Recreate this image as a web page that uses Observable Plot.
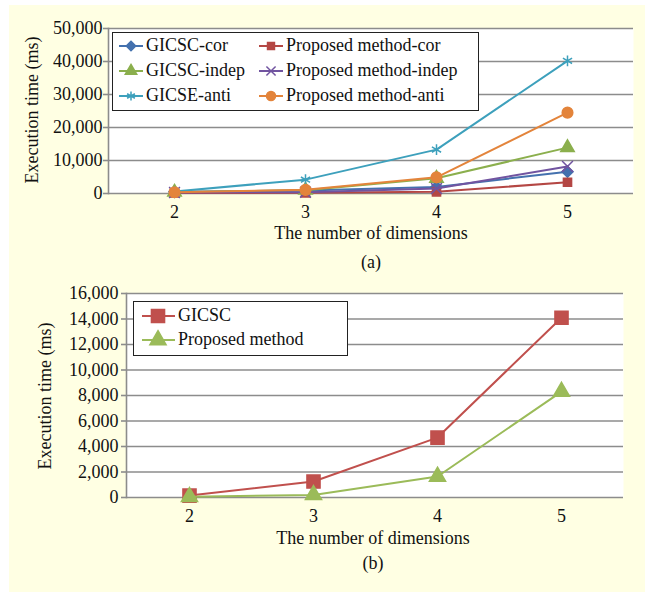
<!DOCTYPE html>
<html><head><meta charset="utf-8">
<script src="https://cdn.jsdelivr.net/npm/d3@7"></script>
<script src="https://cdn.jsdelivr.net/npm/@observablehq/plot@0.6"></script>
<style>
body{margin:0;background:#fff;font-family:"Liberation Serif","Times New Roman",serif;color:#111;}
#page{position:relative;width:645px;height:592px;overflow:hidden;}
#bg{position:absolute;left:9px;top:5px;width:636px;height:587px;background:#FFFFE3;}
.lbl{position:absolute;font-size:18px;line-height:18px;white-space:nowrap;transform:translateX(-50%);}
.ytitle{position:absolute;font-size:18px;line-height:18px;white-space:nowrap;transform:translate(-50%,-50%) rotate(-90deg);}
.legend{position:absolute;background:#fff;border:1.5px solid #222;box-sizing:border-box;}
.item{position:absolute;font-size:18px;line-height:18px;white-space:nowrap;}
.plot{position:absolute;left:0;}
</style>
</head><body>
<div id="page"><div id="bg"></div></div>
<script>
// ---- data ----
const dimensions = [2, 3, 4, 5];

const seriesA = ["GICSC-cor", "Proposed method-cor", "GICSC-indep", "Proposed method-indep", "GICSE-anti", "Proposed method-anti"];
const gicscCor      = [500, 900, 2000, 6600];
const proposedCor   = [150, 200, 500, 3400];
const gicscIndep    = [400, 1000, 4600, 13900];
const proposedIndep = [300, 400, 1500, 8200];
const gicseAnti     = [600, 4200, 13300, 40200];
const proposedAnti  = [400, 1100, 4900, 24500];
const valuesA = [gicscCor, proposedCor, gicscIndep, proposedIndep, gicseAnti, proposedAnti];
const colorsA = ["#4471AE", "#B44744", "#8BAF4D", "#7154A0", "#3DA0BC", "#E3843B"];
const symbolsA = ["diamond2", "square", "triangle", "times", "asterisk", "circle"];
const sizesA = [5, 4.6, 5, 5, 5, 5.3];
const yTicksA = [0, 10000, 20000, 30000, 40000, 50000];

const seriesB = ["GICSC", "Proposed method"];
const gicscB    = [150, 1250, 4700, 14100];
const proposedB = [50, 200, 1650, 8300];
const valuesB = [gicscB, proposedB];
const colorsB = ["#C0504D", "#9BBB59"];
const symbolsB = ["square", "triangle"];
const sizesB = [7.4, 6];
const yTicksB = [0, 2000, 4000, 6000, 8000, 10000, 12000, 14000, 16000];

const xTitle = "The number of dimensions";
const yTitle = "Execution time (ms)";

// ---- helpers ----
const page = document.getElementById("page");
const fmt = d3.format(",");
const grid = "#8C8C8C";

function panel(names, values, colors, symbols, sizes, yTicks, opts) {
  const marks = [
    Plot.frame({fill: "white", stroke: "none"}),
    Plot.gridY(yTicks, {stroke: grid, strokeOpacity: 1, strokeWidth: 1.6}),
    Plot.frame({anchor: "left", stroke: grid, strokeWidth: 1.6}),
    Plot.axisY(yTicks, {tickFormat: fmt, tickSize: opts.tickSize, tickPadding: opts.tickPadding, stroke: grid, strokeWidth: 1.6, fill: "#111", fontSize: 18, label: null}),
    Plot.axisX(dimensions, {tickSize: 0, tickPadding: 12, fill: "#111", fontSize: 18, label: null})
  ];
  names.forEach((name, i) => {
    const rows = dimensions.map((d, j) => ({dim: d, value: values[i][j], series: name}));
    marks.push(Plot.line(rows, {x: "dim", y: "value", stroke: colors[i], strokeWidth: 2}));
    marks.push(Plot.dot(rows, {x: "dim", y: "value", symbol: () => symbols[i], r: sizes[i], fill: colors[i], stroke: colors[i], strokeWidth: 1.5}));
  });
  const svg = Plot.plot({
    width: 645, height: opts.height,
    marginLeft: opts.ml, marginRight: opts.mr, marginTop: opts.mt, marginBottom: opts.mb,
    style: {background: "transparent", fontFamily: '"Liberation Serif","Times New Roman",serif', fontSize: "18px", color: "#111", overflow: "visible"},
    x: {type: "point", domain: dimensions, padding: 0.5, label: null},
    y: {domain: [0, yTicks[yTicks.length - 1]], label: null},
    symbol: {type: "identity"},
    marks
  });
  svg.classList.add("plot");
  svg.style.top = opts.top + "px";
  page.appendChild(svg);
}

function label(text, cls, x, y) {
  const d = document.createElement("div");
  d.className = cls; d.textContent = text;
  d.style.left = x + "px"; d.style.top = y + "px";
  page.appendChild(d);
}

function legend(names, colors, symbols, sizes, box, layout) {
  const lg = document.createElement("div");
  lg.className = "legend";
  Object.assign(lg.style, {left: box.x + "px", top: box.y + "px", width: box.w + "px", height: box.h + "px"});
  const nCols = layout.cols.length;
  names.forEach((name, i) => {
    const col = layout.cols[i % nCols];
    const row = layout.rows[Math.floor(i / nCols)];
    const w = col.lineEnd - col.lineStart;
    const sv = d3.create("svg").attr("width", w + 16).attr("height", 20)
      .style("position", "absolute").style("overflow", "visible")
      .style("left", (col.lineStart - 8) + "px").style("top", (row - 10) + "px");
    sv.append("line").attr("x1", 8).attr("x2", 8 + w).attr("y1", 10).attr("y2", 10)
      .attr("stroke", colors[i]).attr("stroke-width", 2);
    const symMap = {diamond2: d3.symbolDiamond2, square: d3.symbolSquare, triangle: d3.symbolTriangle, times: d3.symbolTimes, asterisk: d3.symbolAsterisk, circle: d3.symbolCircle};
    const s = sizes[i] * layout.scale;
    sv.append("path").attr("d", d3.symbol(symMap[symbols[i]], s * s * Math.PI)())
      .attr("transform", `translate(${8 + col.marker - col.lineStart},10)`)
      .attr("fill", colors[i]).attr("stroke", colors[i]).attr("stroke-width", 1.5);
    lg.appendChild(sv.node());
    const t = document.createElement("div");
    t.className = "item"; t.textContent = name;
    t.style.left = col.text + "px"; t.style.top = (row - 10) + "px";
    lg.appendChild(t);
  });
  page.appendChild(lg);
}

// ---- panel (a) ----
panel(seriesA, valuesA, colorsA, symbolsA, sizesA, yTicksA,
  {top: 0, height: 280, ml: 108, mr: 12, mt: 28, mb: 87, tickSize: 5, tickPadding: 1});
label(yTitle, "ytitle", 32, 110);
label(xTitle, "lbl", 371, 224);
label("(a)", "lbl", 371, 253);
legend(seriesA, colorsA, symbolsA, sizesA, {x: 112, y: 32, w: 367, h: 79},
  {rows: [13, 38, 63], scale: 0.85,
   cols: [{lineStart: 6, lineEnd: 30, marker: 18, text: 33}, {lineStart: 146, lineEnd: 170, marker: 158, text: 173}]});

// ---- panel (b) ----
panel(seriesB, valuesB, colorsB, symbolsB, sizesB, yTicksB,
  {top: 280, height: 312, ml: 126, mr: 22, mt: 13, mb: 95, tickSize: 5, tickPadding: 3});
label(yTitle, "ytitle", 45, 396);
label(xTitle, "lbl", 373, 529);
label("(b)", "lbl", 373, 554);
legend(seriesB, colorsB, symbolsB, sizesB, {x: 133, y: 301, w: 215, h: 55},
  {rows: [14, 38], scale: 1,
   cols: [{lineStart: 8, lineEnd: 41, marker: 24, text: 44}]});
</script>
</body></html>
